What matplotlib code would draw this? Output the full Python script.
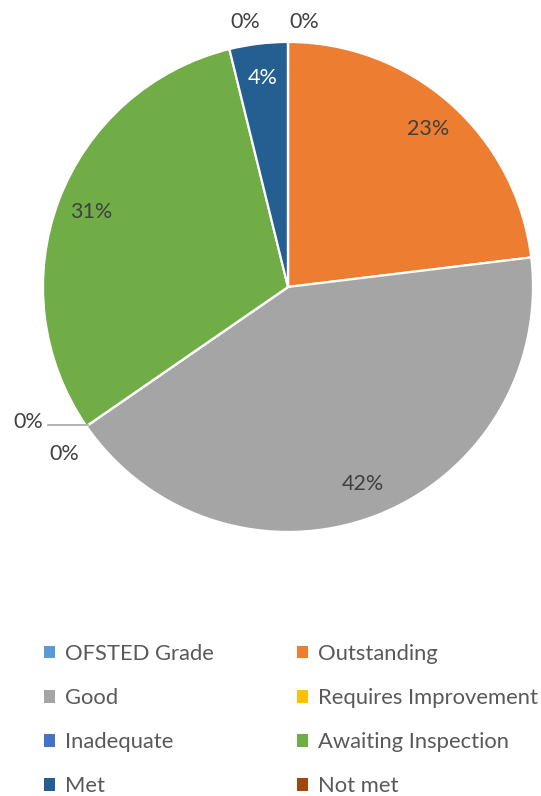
import numpy as np
import matplotlib.pyplot as plt
from matplotlib.patches import Patch

plt.rcParams['font.family'] = ['Lato', 'DejaVu Sans']

categories = ['OFSTED Grade', 'Outstanding', 'Good', 'Requires Improvement',
              'Inadequate', 'Awaiting Inspection', 'Met', 'Not met']
counts = [0, 6, 11, 0, 0, 8, 1, 0]
colors = ['#5B9BD5', '#ED7D31', '#A5A5A5', '#FFC000',
          '#4472C4', '#70AD47', '#255E91', '#9E480E']

text_color = '#404040'

fig = plt.figure(figsize=(5.41, 7.96), dpi=100)
ax = fig.add_axes([0.0795, 0.3317, 0.9057, 0.6156])

wedges, _ = ax.pie(counts, colors=colors, startangle=90, counterclock=False,
                   radius=1.0, wedgeprops=dict(edgecolor='white', linewidth=1.6))
ax.set_xlim(-1, 1)
ax.set_ylim(-1, 1)
ax.axis('off')

total = sum(counts)
# offsets (points) for the zero-valued labels so they do not overlap
zero_offsets = {0: (12, 0), 7: (-31, 0), 3: (-30, 11), 4: (-4, -12)}
for i, w in enumerate(wedges):
    pct = counts[i] / total * 100
    mid = np.deg2rad((w.theta1 + w.theta2) / 2)
    label = f'{pct:.0f}%'
    if counts[i] > 0:
        r = 0.86
        col = 'white' if i == 6 else text_color
        ax.text(r * np.cos(mid), r * np.sin(mid), label, ha='center', va='center',
                fontsize=15.5, color=col)
    else:
        r = 1.08
        x, y = r * np.cos(mid), r * np.sin(mid)
        dx, dy = zero_offsets[i]
        ax.annotate(label, xy=(x, y), xytext=(dx, dy), textcoords='offset points',
                    ha='center', va='center', fontsize=15.5, color=text_color,
                    annotation_clip=False)

# leader line for the Requires Improvement label
theta = np.deg2rad(wedges[3].theta1)
ax.plot([0.99 * np.cos(theta), 0.99 * np.cos(theta) - 0.165],
        [0.99 * np.sin(theta), 0.99 * np.sin(theta)],
        color='#A5A5A5', linewidth=1.2, clip_on=False)

# legend laid out row-wise in two columns
order = [0, 2, 4, 6, 1, 3, 5, 7]
handles = [Patch(facecolor=colors[i], edgecolor='none') for i in order]
labels = [categories[i] for i in order]
fig.legend(handles, labels, ncol=2, loc='upper left', bbox_to_anchor=(0.081, 0.191),
           frameon=False, fontsize=15.8, labelcolor='#595959', borderpad=0,
           borderaxespad=0, handlelength=0.5, handleheight=0.5, handletextpad=0.45,
           columnspacing=3.8, labelspacing=1.1)

fig.savefig('out.png', dpi=100)
